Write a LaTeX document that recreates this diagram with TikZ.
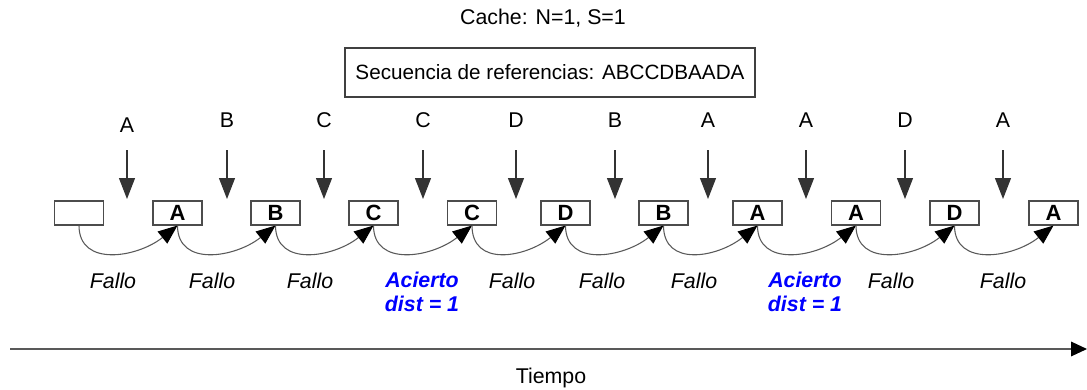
\documentclass[tikz,border=0pt]{standalone}
\usepackage{fontspec}
\setmainfont{Liberation Sans}
\usetikzlibrary{arrows.meta}
\begin{document}
\begin{tikzpicture}[x=0.75pt,y=-0.75pt,
  txt/.style={font=\fontsize{16}{18}\selectfont, inner sep=0pt},
  cbox/.style={draw=black!70, line width=0.8pt, minimum width=36.75pt, minimum height=18pt, inner sep=0pt, font=\fontsize{16.5}{18}\selectfont\bfseries},
  refarrow/.style={draw=black!80, line width=0.9pt, -{Triangle[length=15.75pt,width=12pt]}},
  curvearrow/.style={draw=black!65, line width=0.8pt, -{Triangle[length=14.5pt,width=11.5pt,color=black,fill=black]}},
  res/.style={txt, font=\fontsize{16}{18}\selectfont\itshape},
  hit/.style={res, font=\fontsize{16}{18}\selectfont\itshape\bfseries, text=blue, align=center}
]
\useasboundingbox (0,0) rectangle (1087,389);

\node[txt] (title) at (543,18) {Cache: N=1, S=1};
\node[draw=black!75, line width=0.8pt, minimum width=307.5pt, minimum height=36.75pt, txt, font=\fontsize{15.5}{17}\selectfont] (seq) at (550,72.5) {Secuencia de referencias: ABCCDBAADA};

% boxes
\foreach \i/\x/\t in {0/79/{},1/177.5/A,2/275.5/B,3/373.5/C,4/472/C,5/565.5/D,6/663.5/B,7/757.5/A,8/856/A,9/954.5/D,10/1053.5/A}
  \node[cbox] (b\i) at (\x,213) {\t};

% references
\foreach \i/\x/\y/\t in {1/127/125/A,2/227/120/B,3/324/120/C,4/423/120/C,5/516/120/D,6/615/120/B,7/708/120/A,8/806/120/A,9/905/120/D,10/1003/120/A}{
  \node[txt] (r\i) at (\x,\y) {\t};
  \coordinate (rs\i) at (\x,150);
  \coordinate (re\i) at (\x,199);
  \draw[refarrow] (rs\i) -- (re\i);
}

% transitions
\foreach \i [evaluate=\i as \j using int(\i+1)] in {0,...,9}
  \draw[curvearrow] (b\i.south) .. controls +(0,42) and +(-40,32) .. (b\j.south);

% results
\node[res] (f1) at (113,281) {Fallo};
\node[res] (f2) at (212,281) {Fallo};
\node[res] (f3) at (310,281) {Fallo};
\node[hit] (h1) at (422,292) {Acierto\\dist = 1};
\node[res] (f4) at (512,281) {Fallo};
\node[res] (f5) at (602,281) {Fallo};
\node[res] (f6) at (694,281) {Fallo};
\node[hit] (h2) at (805,292) {Acierto\\dist = 1};
\node[res] (f7) at (891,281) {Fallo};
\node[res] (f8) at (1003,281) {Fallo};

% time axis
\coordinate (t0) at (10,349);
\coordinate (t1) at (1087,349);
\draw[draw=black!65, line width=0.9pt, -{Triangle[length=12pt,width=11pt,color=black,fill=black]}] (t0) -- (t1);
\node[txt] (tiempo) at (551,378) {Tiempo};
\end{tikzpicture}
\end{document}
